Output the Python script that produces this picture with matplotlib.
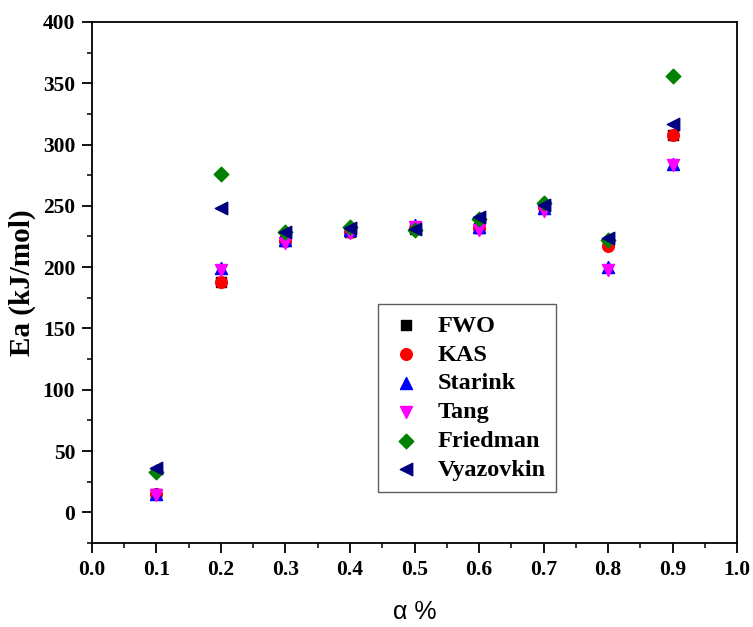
import matplotlib.pyplot as plt
from matplotlib.ticker import MultipleLocator

plt.rcParams['font.family'] = ['Liberation Serif', 'DejaVu Serif']
plt.rcParams['font.weight'] = 'bold'

alpha = [0.1, 0.2, 0.3, 0.4, 0.5, 0.6, 0.7, 0.8, 0.9]
fwo = [15, 188, 221, 229, 231, 232, 249, 220, 308]
kas = [15, 188, 221, 229, 231, 232, 249, 217, 308]
starink = [15, 199, 222, 230, 234, 233, 248, 200, 284]
tang = [14, 198, 220, 228, 233, 230, 246, 198, 283]
friedman = [33, 276, 229, 233, 230, 239, 252, 222, 356]
vyazovkin = [36, 248, 229, 232, 231, 241, 251, 224, 317]

fig = plt.figure(figsize=(7.53, 6.27), dpi=100)
ax = fig.add_axes([0.122, 0.134, 0.857, 0.831])

ax.scatter(alpha, fwo, marker='s', color='black', s=55, label='FWO', zorder=3)
ax.scatter(alpha, kas, marker='o', color='red', s=70, label='KAS', zorder=3)
ax.scatter(alpha, starink, marker='^', color='blue', s=75, label='Starink', zorder=3)
ax.scatter(alpha, tang, marker='v', color='magenta', s=75, label='Tang', zorder=3)
ax.scatter(alpha, friedman, marker='D', color='green', s=55, label='Friedman', zorder=3)
ax.scatter(alpha, vyazovkin, marker='<', color='navy', s=80, label='Vyazovkin', zorder=3)

ax.set_xlim(0, 1.0)
ax.set_ylim(-25, 400)
ax.xaxis.set_major_locator(MultipleLocator(0.1))
ax.xaxis.set_minor_locator(MultipleLocator(0.05))
ax.yaxis.set_major_locator(MultipleLocator(50))
ax.yaxis.set_minor_locator(MultipleLocator(25))
ax.tick_params(which='major', length=7, width=1.3, labelsize=15.5, direction='out', pad=5)
ax.tick_params(which='minor', length=3.5, width=1.1, direction='out')
for lab in ax.get_xticklabels() + ax.get_yticklabels():
    lab.set_fontweight('bold')
for sp in ax.spines.values():
    sp.set_linewidth(1.3)

ax.set_ylabel('Ea (kJ/mol)', fontsize=21, fontweight='bold', labelpad=5)
ax.set_xlabel('α %', fontsize=18, family=['Liberation Sans', 'DejaVu Sans'],
              fontweight='normal', labelpad=15)

leg = ax.legend(loc='upper left', bbox_to_anchor=(0.443, 0.459), borderaxespad=0,
                frameon=True, fancybox=False, edgecolor='#333333',
                prop={'size': 17.5, 'weight': 'bold'},
                handletextpad=0.6, handlelength=1.4, labelspacing=0.28, borderpad=0.45)
leg.get_frame().set_linewidth(1.0)

fig.savefig('out.png', dpi=100)
